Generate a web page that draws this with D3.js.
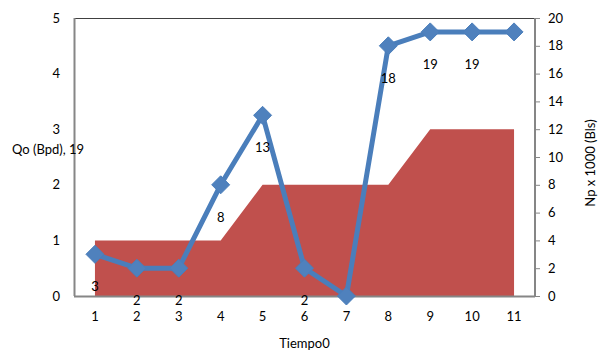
<!DOCTYPE html>
<html>
<head>
<meta charset="utf-8">
<script src="https://cdn.jsdelivr.net/npm/d3@7"></script>
<style>
  html, body { margin: 0; padding: 0; background: #fff; }
  svg { display: block; }
  text { font-family: Lato, "Open Sans", sans-serif; font-size: 13px; fill: #000; }
</style>
</head>
<body>
<svg id="chart" width="599" height="352"></svg>
<script>
// Time steps along the x axis
const tiempo = ["1", "2", "3", "4", "5", "6", "7", "8", "9", "10", "11"];
// Oil rate Qo (Bpd), left axis, drawn as an area
const qo = [1, 1, 1, 1, 2, 2, 2, 2, 3, 3, 3];
// Cumulative production Np x 1000 (Bls), right axis, drawn as a line
const np = [3, 2, 2, 8, 13, 2, 0, 18, 19, 19, 19];
// Point labels that are not drawn below their marker
const hiddenLabels = [6, 10];
// Axis ticks
const leftTicks = [0, 1, 2, 3, 4, 5];
const rightTicks = [0, 2, 4, 6, 8, 10, 12, 14, 16, 18, 20];

const svg = d3.select("#chart");
const plot = { left: 74, right: 535, top: 18, bottom: 296 };

const x = d3.scaleBand().domain(tiempo).range([plot.left, plot.right]).padding(0);
const cx = d => x(d) + x.bandwidth() / 2;
const yL = d3.scaleLinear().domain([0, 5]).range([plot.bottom, plot.top]);
const yR = d3.scaleLinear().domain([0, 20]).range([plot.bottom, plot.top]);

// Qo area
const area = d3.area()
  .x((d, i) => cx(tiempo[i]))
  .y0(yL(0))
  .y1(d => yL(d));
svg.append("path")
  .datum(qo)
  .attr("d", area)
  .attr("fill", "#C0504D");

// Frame: top border, left, bottom and right axes
svg.append("line")
  .attr("x1", plot.left).attr("x2", plot.right)
  .attr("y1", plot.top + 0.5).attr("y2", plot.top + 0.5)
  .attr("stroke", "#404040").attr("stroke-width", 1);

const axisColor = "#868686";
const leftAxis = svg.append("g")
  .attr("transform", `translate(${plot.left},0)`)
  .call(d3.axisLeft(yL).tickValues(leftTicks).tickSize(0).tickPadding(14).tickFormat(d3.format("d")));
const rightAxis = svg.append("g")
  .attr("transform", `translate(${plot.right},0)`)
  .call(d3.axisRight(yR).tickValues(rightTicks).tickSize(5).tickPadding(8).tickFormat(d3.format("d")));
const bottomAxis = svg.append("g")
  .attr("transform", `translate(0,${plot.bottom})`)
  .call(d3.axisBottom(x).tickSize(0).tickPadding(16));

[leftAxis, rightAxis, bottomAxis].forEach(g => {
  g.select(".domain").attr("stroke", axisColor).attr("stroke-width", 2);
  g.selectAll(".tick line").attr("stroke", axisColor);
  g.selectAll(".tick text")
    .style("font-family", "Lato, 'Open Sans', sans-serif")
    .style("font-size", "13px")
    .attr("fill", "#000");
});
leftAxis.select(".domain").attr("d", `M0.5,${plot.top}V${plot.bottom}`);
rightAxis.select(".domain").attr("d", `M0,${plot.top}V${plot.bottom}`);
bottomAxis.select(".domain").attr("d", `M${plot.left},0.5H${plot.right}`);

// Np line with diamond markers
const line = d3.line()
  .x((d, i) => cx(tiempo[i]))
  .y(d => yR(d));
svg.append("path")
  .datum(np)
  .attr("d", line)
  .attr("fill", "none")
  .attr("stroke", "#4A7EBB")
  .attr("stroke-width", 5)
  .attr("stroke-linejoin", "round");

svg.append("g").selectAll("path")
  .data(np)
  .join("path")
  .attr("transform", (d, i) => `translate(${cx(tiempo[i])},${yR(d)})`)
  .attr("d", "M0,-9L9,0L0,9L-9,0Z")
  .attr("fill", "#4F81BD")
  .attr("stroke", "#4A7EBB")
  .attr("stroke-width", 1);

// Value labels below each marker
svg.append("g").selectAll("text")
  .data(np.map((v, i) => ({ v, i })).filter(d => !hiddenLabels.includes(d.i)))
  .join("text")
  .attr("x", d => cx(tiempo[d.i]))
  .attr("y", d => yR(d.v) + 32)
  .attr("text-anchor", "middle")
  .attr("dominant-baseline", "central")
  .text(d => d.v);

// Axis titles
svg.append("text")
  .attr("x", 48).attr("y", 149)
  .attr("text-anchor", "middle")
  .attr("dominant-baseline", "central")
  .text("Qo (Bpd), " + np[np.length - 1]);

svg.append("text")
  .attr("transform", "translate(590,163) rotate(-90)")
  .attr("text-anchor", "middle")
  .attr("dominant-baseline", "central")
  .text("Np x 1000 (Bls)");

svg.append("text")
  .attr("x", (plot.left + plot.right) / 2)
  .attr("y", 343)
  .attr("text-anchor", "middle")
  .attr("dominant-baseline", "central")
  .text("Tiempo0");
</script>
</body>
</html>
